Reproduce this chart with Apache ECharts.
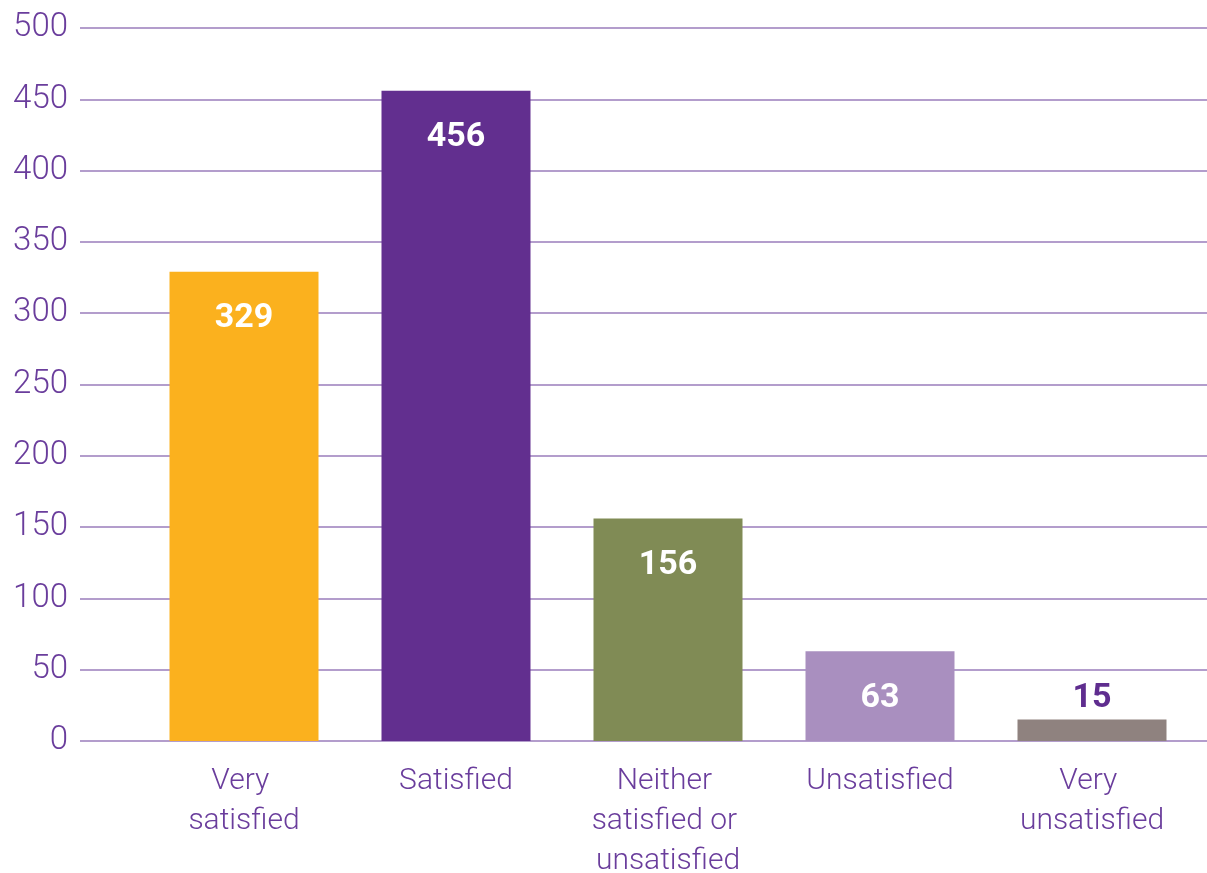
<!DOCTYPE html>
<html>
<head>
<meta charset="utf-8">
<script src="https://cdn.jsdelivr.net/npm/echarts@6/dist/echarts.min.js"></script>
<style>
html,body{margin:0;padding:0;background:#fff;}
#chart{width:1207px;height:873px;}
</style>
</head>
<body>
<div id="chart"></div>
<script>
const categories = ['Very satisfied', 'Satisfied', 'Neither satisfied or unsatisfied', 'Unsatisfied', 'Very unsatisfied'];
const counts = [329, 456, 156, 63, 15];
const yTicks = [0, 50, 100, 150, 200, 250, 300, 350, 400, 450, 500];

const palette = ['#FBB11E', '#622F8F', '#808B55', '#A98FBF', '#8F827F'];
const textPurple = '#6A3D9C';
const font = 'Roboto';

const chart = echarts.init(document.getElementById('chart'), null, {renderer: 'canvas'});
const yMin = yTicks[0], yMax = yTicks[yTicks.length - 1], yStep = yTicks[1] - yTicks[0];

chart.setOption({
  animation: false,
  backgroundColor: '#ffffff',
  grid: [
    {left: 80, right: 0, top: 28, bottom: 132, containLabel: false, outerBoundsMode: 'none'},
    {left: 138, right: 9, top: 28, bottom: 132, containLabel: false, outerBoundsMode: 'none'}
  ],
  xAxis: [
    {gridIndex: 0, type: 'value', show: false, min: 0, max: 1},
    {
      gridIndex: 1, type: 'category', data: categories,
      axisLine: {show: false}, axisTick: {show: false},
      axisLabel: {
        color: textPurple, fontFamily: font, fontWeight: 300, fontSize: 30,
        lineHeight: 40, margin: 20, width: 160, overflow: 'break', interval: 0
      }
    }
  ],
  yAxis: [
    {
      gridIndex: 0, type: 'value', min: yMin, max: yMax, interval: yStep,
      axisLine: {show: false}, axisTick: {show: false},
      axisLabel: {color: textPurple, fontFamily: font, fontWeight: 300, fontSize: 33, margin: 12},
      splitLine: {lineStyle: {color: '#B39DCC', width: 2}}
    },
    {gridIndex: 1, type: 'value', min: yMin, max: yMax, interval: yStep, show: false, splitLine: {show: false}}
  ],
  series: [{
    type: 'bar',
    xAxisIndex: 1, yAxisIndex: 1,
    barWidth: 149,
    data: counts.map((v, i) => ({
      value: v,
      itemStyle: {color: palette[i]},
      label: v < 40
        ? {position: 'top', distance: 4, color: '#5F2D8F'}
        : {position: 'insideTop', distance: 30, color: '#ffffff'}
    })),
    label: {show: true, fontFamily: font, fontWeight: 'bold', fontSize: 34}
  }]
});
</script>
</body>
</html>
